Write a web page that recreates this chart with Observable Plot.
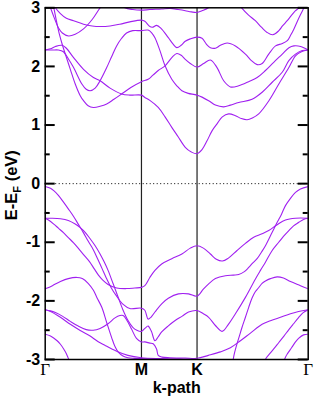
<!DOCTYPE html>
<html><head><meta charset="utf-8">
<script src="https://cdn.jsdelivr.net/npm/d3@7"></script>
<script src="https://cdn.jsdelivr.net/npm/@observablehq/plot@0.6"></script>
<style>
html,body{margin:0;padding:0;background:#fff;}
#chart{width:317px;height:399px;}
</style></head><body><div id="chart"></div>
<script>
// high-symmetry points along the path (Γ–M–K–Γ, hexagonal BZ proportions)
const kPoints = [0, 1, 1.5774, 2.7321];
const kLabels = ["Γ", "M", "K", "Γ"];
const yTicks = [-3, -2, -1, 0, 1, 2, 3];
const yMinorTicks = [-2.5, -1.5, -0.5, 0.5, 1.5, 2.5];
const fermiLevel = [0];

// conduction bands [k, E-EF]
const cA = [[0.02,3.2],[0.034,3.1],[0.055,3.0],[0.096,2.82],[0.137,2.66],[0.178,2.57],[0.243,2.52],[0.312,2.55],[0.398,2.64],[0.488,2.80],[0.570,3.0],[0.611,3.08]];
const cB = [[0.075,3.1],[0.106,3.0],[0.158,2.90],[0.220,2.82],[0.295,2.78],[0.398,2.72],[0.488,2.69],[0.570,2.68],[0.674,2.69],[0.776,2.72],[0.879,2.76],[1,2.79],[1.035,2.77],[1.087,2.68],[1.119,2.67],[1.157,2.70],[1.203,2.65],[1.279,2.49],[1.329,2.38],[1.367,2.32],[1.412,2.36],[1.455,2.43],[1.507,2.47],[1.577,2.50],[1.629,2.48],[1.674,2.38],[1.716,2.32],[1.768,2.31],[1.820,2.36],[1.890,2.40],[1.976,2.35],[2.080,2.21],[2.142,2.10],[2.202,2.03],[2.254,2.05],[2.322,2.21],[2.393,2.35],[2.463,2.39],[2.515,2.44],[2.549,2.53],[2.584,2.64],[2.622,2.78],[2.654,2.89],[2.688,3.0],[2.705,3.08]];
const cTop = [[0.757,3.1],[0.828,3.0],[0.910,2.97],[1,2.96],[1.087,2.97],[1.210,2.98],[1.297,2.99],[1.381,2.97],[1.455,2.95],[1.518,2.93],[1.577,2.92],[1.629,2.95],[1.695,3.0],[1.737,3.08]];
const c1 = [[0.013,3.35],[0.055,3.18],[0.089,3.0],[0.116,2.78],[0.147,2.55],[0.178,2.37],[0.209,2.21],[0.261,1.95],[0.312,1.70],[0.364,1.50],[0.398,1.415],[0.446,1.33],[0.501,1.30],[0.570,1.32],[0.639,1.36],[0.714,1.44],[0.794,1.53],[0.890,1.64],[1,1.74],[1.069,1.78],[1.119,1.85],[1.174,1.93],[1.245,2.01],[1.315,2.15],[1.367,2.22],[1.413,2.19],[1.455,2.12],[1.507,2.05],[1.577,1.99],[1.646,2.05],[1.716,2.11],[1.785,1.98],[1.854,1.755],[1.924,1.65],[2.010,1.67],[2.114,1.74],[2.202,1.81],[2.288,1.93],[2.374,2.07],[2.463,2.21],[2.532,2.32],[2.584,2.35],[2.654,2.34],[2.732,2.28]];
const c2 = [[0,2.28],[0.075,2.28],[0.137,2.28],[0.189,2.25],[0.240,2.13],[0.295,1.98],[0.381,1.70],[0.426,1.61],[0.467,1.585],[0.519,1.63],[0.570,1.755],[0.639,1.98],[0.691,2.17],[0.742,2.35],[0.794,2.48],[0.845,2.57],[0.910,2.61],[1,2.61],[1.069,2.62],[1.108,2.57],[1.140,2.49],[1.192,2.27],[1.245,2.01],[1.315,1.78],[1.367,1.67],[1.420,1.585],[1.486,1.54],[1.577,1.51],[1.698,1.415],[1.768,1.34],[1.854,1.31],[1.924,1.34],[2.010,1.385],[2.149,1.44],[2.254,1.56],[2.358,1.73],[2.462,1.90],[2.531,2.10],[2.600,2.21],[2.670,2.27],[2.732,2.28]];
const c3 = [[0,2.28],[0.055,2.30],[0.106,2.34],[0.175,2.36],[0.220,2.31],[0.295,2.15],[0.398,1.95],[0.501,1.81],[0.570,1.755],[0.674,1.63],[0.794,1.53],[0.879,1.51],[1,1.51],[1.035,1.47],[1.087,1.42],[1.174,1.30],[1.245,1.14],[1.315,0.96],[1.381,0.80],[1.455,0.62],[1.518,0.54],[1.577,0.51],[1.629,0.58],[1.681,0.73],[1.733,0.90],[1.785,1.02],[1.840,1.14],[1.906,1.19],[1.976,1.16],[2.038,1.11],[2.097,1.09],[2.152,1.12],[2.218,1.19],[2.322,1.41],[2.427,1.70],[2.531,1.98],[2.600,2.18],[2.662,2.25],[2.732,2.28]];
const cT2 = [[1.996,3.1],[2.045,2.99],[2.110,2.88],[2.183,2.78],[2.246,2.67],[2.305,2.58],[2.364,2.54],[2.427,2.61],[2.465,2.69],[2.514,2.78],[2.558,2.87],[2.600,2.95],[2.635,3.0],[2.663,3.08]];

// valence bands [k, E-EF]
const v1 = [[0,-0.05],[0.055,-0.08],[0.089,-0.12],[0.137,-0.20],[0.192,-0.32],[0.240,-0.43],[0.295,-0.56],[0.343,-0.69],[0.398,-0.84],[0.446,-0.98],[0.501,-1.13],[0.549,-1.30],[0.591,-1.45],[0.632,-1.60],[0.684,-1.77],[0.742,-1.92],[0.810,-2.06],[0.879,-2.13],[1,-2.125],[1.035,-2.16],[1.069,-2.31],[1.098,-2.28],[1.140,-2.19],[1.210,-2.05],[1.279,-1.955],[1.384,-1.88],[1.489,-1.88],[1.577,-1.92],[1.643,-1.80],[1.698,-1.71],[1.768,-1.62],[1.872,-1.57],[1.955,-1.56],[2.010,-1.55],[2.069,-1.50],[2.114,-1.43],[2.152,-1.36],[2.201,-1.28],[2.246,-1.17],[2.288,-1.06],[2.358,-0.83],[2.410,-0.66],[2.455,-0.52],[2.496,-0.375],[2.548,-0.25],[2.600,-0.15],[2.652,-0.09],[2.732,-0.05]];
const v2 = [[0,-0.59],[0.075,-0.59],[0.158,-0.60],[0.240,-0.63],[0.312,-0.69],[0.364,-0.75],[0.415,-0.83],[0.467,-0.94],[0.519,-1.06],[0.570,-1.20],[0.611,-1.33],[0.653,-1.48],[0.704,-1.70],[0.756,-1.93],[0.807,-2.15],[0.859,-2.33],[0.910,-2.45],[0.952,-2.50],[1,-2.52],[1.035,-2.47],[1.069,-2.43],[1.103,-2.52],[1.140,-2.68],[1.171,-2.62],[1.210,-2.53],[1.276,-2.43],[1.350,-2.335],[1.424,-2.26],[1.489,-2.19],[1.577,-2.165],[1.643,-2.22],[1.698,-2.28],[1.768,-2.42],[1.837,-2.52],[1.903,-2.40],[1.976,-2.22],[2.080,-1.94],[2.184,-1.625],[2.236,-1.48],[2.288,-1.34],[2.358,-1.14],[2.426,-1.0],[2.475,-0.90],[2.531,-0.80],[2.580,-0.72],[2.635,-0.66],[2.684,-0.61],[2.732,-0.59]];
const v3 = [[0,-0.59],[0.034,-0.62],[0.089,-0.69],[0.137,-0.76],[0.192,-0.84],[0.240,-0.92],[0.295,-1.01],[0.343,-1.10],[0.398,-1.21],[0.460,-1.33],[0.508,-1.45],[0.553,-1.56],[0.601,-1.65],[0.653,-1.72],[0.742,-1.78],[0.845,-1.79],[0.931,-1.78],[1,-1.77],[1.035,-1.74],[1.087,-1.60],[1.140,-1.48],[1.210,-1.37],[1.315,-1.28],[1.420,-1.20],[1.507,-1.10],[1.577,-1.06],[1.643,-1.10],[1.716,-1.20],[1.778,-1.29],[1.841,-1.32],[1.903,-1.27],[1.993,-1.14],[2.080,-1.02],[2.166,-0.915],[2.246,-0.86],[2.322,-0.80],[2.410,-0.70],[2.496,-0.62],[2.600,-0.59],[2.732,-0.59]];
const v4 = [[0,-1.795],[0.075,-1.74],[0.158,-1.67],[0.240,-1.62],[0.330,-1.60],[0.385,-1.62],[0.446,-1.70],[0.501,-1.82],[0.539,-1.95],[0.588,-2.11],[0.639,-2.37],[0.691,-2.63],[0.725,-2.78],[0.759,-2.875],[0.808,-2.94],[0.859,-2.97],[0.931,-2.98],[1,-2.985],[1.192,-3.0],[1.402,-3.02],[1.577,-3.04],[1.767,-3.1]];
const v5 = [[0,-2.15],[0.055,-2.17],[0.106,-2.20],[0.178,-2.26],[0.261,-2.35],[0.343,-2.43],[0.426,-2.49],[0.498,-2.50],[0.570,-2.47],[0.653,-2.39],[0.725,-2.29],[0.776,-2.25],[0.810,-2.25],[0.848,-2.33],[0.897,-2.48],[0.948,-2.64],[1,-2.70],[1.035,-2.70],[1.087,-2.72],[1.122,-2.73],[1.157,-2.82],[1.174,-2.93],[1.213,-2.96],[1.297,-2.97],[1.455,-2.975],[1.577,-2.98],[1.695,-2.93],[1.820,-2.87],[1.924,-2.80],[2.028,-2.68],[2.132,-2.55],[2.253,-2.40],[2.340,-2.34],[2.444,-2.28],[2.548,-2.22],[2.632,-2.18],[2.732,-2.15]];
const v6 = [[0,-2.15],[0.055,-2.18],[0.158,-2.28],[0.261,-2.40],[0.364,-2.505],[0.467,-2.60],[0.536,-2.68],[0.622,-2.76],[0.742,-2.86],[0.859,-2.93],[1,-2.97],[1.192,-2.985],[1.402,-2.99],[1.577,-2.995],[1.715,-3.03],[1.871,-3.1]];
const v7 = [[0,-2.57],[0.055,-2.60],[0.124,-2.68],[0.158,-2.74],[0.192,-2.82],[0.220,-2.90],[0.243,-2.99],[0.271,-3.08]];
const r4 = [[1.944,-3.08],[1.954,-2.99],[1.965,-2.90],[1.993,-2.73],[2.017,-2.60],[2.045,-2.45],[2.080,-2.28],[2.114,-2.11],[2.149,-1.95],[2.184,-1.84],[2.215,-1.78],[2.253,-1.70],[2.288,-1.66],[2.340,-1.62],[2.410,-1.59],[2.475,-1.61],[2.548,-1.67],[2.652,-1.74],[2.732,-1.795]];
const r6 = [[2.270,-3.08],[2.290,-2.99],[2.322,-2.92],[2.374,-2.82],[2.427,-2.71],[2.480,-2.60],[2.531,-2.49],[2.580,-2.39],[2.630,-2.29],[2.680,-2.20],[2.732,-2.15]];
const r7 = [[2.475,-3.05],[2.496,-2.96],[2.517,-2.90],[2.559,-2.80],[2.600,-2.70],[2.632,-2.64],[2.684,-2.58],[2.732,-2.57]];

const bands = [cA, cB, cTop, c1, c2, c3, cT2, v1, v2, v3, v4, v5, v6, v7, r4, r6, r7];
const rows = bands.flatMap((b, i) => b.map(([k, e]) => ({band: i, k, e})));

const W = 317, H = 399, mL = 44.7, mR = 9.3, mT = 7.3, mB = 40;
const frameW = W - mL - mR;
const bold = "'Liberation Sans', Arial, Helvetica, sans-serif";

const chart = Plot.plot({
  width: W, height: H,
  marginLeft: mL, marginRight: mR, marginTop: mT, marginBottom: mB,
  style: {fontFamily: bold, fontSize: "16px", fontWeight: "bold", background: "white", color: "black", overflow: "visible"},
  x: {domain: [0, 2.7321], axis: null},
  y: {domain: [-3, 3], ticks: yTicks, tickSize: 0, tickPadding: 5, tickFormat: d => String(d), label: null},
  marks: [
    Plot.ruleY(fermiLevel, {stroke: "black", strokeWidth: 1, strokeDasharray: "1,2.5"}),
    Plot.ruleX(kPoints.slice(1, 3), {stroke: "#222", strokeWidth: 1.2}),
    Plot.line(rows, {x: "k", y: "e", z: "band", stroke: "#a020f0", strokeWidth: 1.1, curve: "catmull-rom", clip: true}),
    Plot.tickY(yTicks, {y: d => d, insetRight: frameW - 10, stroke: "black", strokeWidth: 2}),
    Plot.tickY(yTicks, {y: d => d, insetLeft: frameW - 10, stroke: "black", strokeWidth: 2}),
    Plot.tickY(yMinorTicks, {y: d => d, insetRight: frameW - 5, stroke: "black", strokeWidth: 2}),
    Plot.tickY(yMinorTicks, {y: d => d, insetLeft: frameW - 5, stroke: "black", strokeWidth: 2}),
    Plot.frame({stroke: "black", strokeWidth: 1.5}),
    Plot.text(kPoints.filter((d, i) => kLabels[i] === "Γ"), {x: d => d, text: () => "Γ", frameAnchor: "bottom", dy: 15, fontSize: 17, fontWeight: "normal", fontFamily: "'Liberation Serif', 'Times New Roman', serif", fill: "black"}),
    Plot.text(kPoints.filter((d, i) => kLabels[i] !== "Γ"), {x: d => d, text: d => kLabels[kPoints.indexOf(d)], frameAnchor: "bottom", dy: 15, fontSize: 16, fontWeight: "bold", fill: "black"}),
    Plot.text(["k-path"], {text: d => d, frameAnchor: "bottom", dy: 33, fontSize: 16, fontWeight: "bold", fill: "black"})
  ]
});

const svg = d3.select(chart);
const lab = svg.append("text")
  .attr("transform", `translate(17,${(mT + H - mB) / 2 + 2}) rotate(-90)`)
  .attr("text-anchor", "middle")
  .attr("font-size", 16.5).attr("font-weight", "bold").attr("fill", "black");
lab.append("tspan").text("E-E");
lab.append("tspan").attr("font-size", 11).attr("dy", 4).text("F");
lab.append("tspan").attr("dy", -4).text(" (eV)");

document.getElementById("chart").appendChild(chart);
</script>
</body></html>
